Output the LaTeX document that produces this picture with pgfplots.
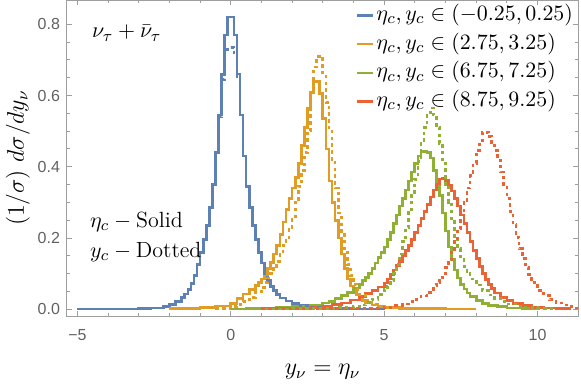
\documentclass[border=0pt]{standalone}
\usepackage{fontspec}
\newfontfamily\tickfont{Liberation Sans}
\usepackage{pgfplots}
\pgfplotsset{compat=1.18}
\usetikzlibrary{calc}

\definecolor{mblue}{rgb}{0.368417,0.506779,0.709798}
\definecolor{morange}{rgb}{0.880722,0.611041,0.142051}
\definecolor{mgreen}{rgb}{0.560181,0.691569,0.194885}
\definecolor{mred}{rgb}{0.922526,0.385626,0.209179}
\definecolor{framegray}{gray}{0.62}
\definecolor{ticklab}{gray}{0.38}

\begin{document}
\begin{tikzpicture}
\begin{axis}[
  scale only axis,
  width=255.5pt, height=158pt,
  xmin=-5.34, xmax=11.32,
  ymin=-0.0188, ymax=0.868,
  xtick={-5,0,5,10}, xticklabels={−5,0,5,10},
  ytick={0,0.2,0.4,0.6,0.8}, yticklabels={0.0,0.2,0.4,0.6,0.8},
  minor x tick num=4, minor y tick num=3,
  tick align=inside,
  major tick length=2.6pt, minor tick length=1.6pt,
  axis line style={framegray, line width=0.5pt},
  tick style={framegray, line width=0.5pt},
  ticklabel style={font=\tickfont\fontsize{8}{9}\selectfont, text=ticklab},
  xticklabel style={yshift=-3pt},
  xlabel={$y_\nu = \eta_\nu$},
  ylabel={$(1/\sigma)\ d\sigma/dy_\nu$},
  every axis x label/.style={at={(axis description cs:0.5,0)}, anchor=center, yshift=-28pt, font=\fontsize{11.5}{14}\selectfont},
  every axis y label/.style={at={(axis description cs:-0.0959,0.5)}, rotate=90, anchor=center, font=\fontsize{11.5}{14}\selectfont},
  const plot,
  every axis plot/.append style={line width=1.35pt},
  legend style={draw=none, fill=none, at={(axis description cs:0.5656,1)}, yshift=-1.8pt, anchor=north west,
    inner sep=0pt, outer sep=0pt, font=\fontsize{11}{13}\selectfont,
    nodes={inner sep=1pt, text depth=0.25em, text height=0.75em},
    row sep=2.3pt, column sep=0pt},
  legend cell align=left,
  legend image code/.code={\draw[#1, line width=1.2pt] (0pt,0pt) -- (8pt,0pt);},
]
\coordinate (fsw) at (rel axis cs:0,0);
\coordinate (fne) at (rel axis cs:1,1);

% eta_c solid histograms
\addplot[mblue] coordinates {
(-5,0.0005) (-4,0.001) (-3,0.002) (-2.6,0.004) (-2.2,0.008) (-2.0,0.013) (-1.8,0.022)
(-1.6,0.033) (-1.5,0.043) (-1.4,0.056) (-1.3,0.072) (-1.2,0.095) (-1.1,0.125) (-1.0,0.16)
(-0.9,0.195) (-0.8,0.235) (-0.7,0.285) (-0.6,0.35) (-0.5,0.44) (-0.4,0.545) (-0.3,0.66)
(-0.2,0.77) (-0.1,0.82) (0,0.82) (0.1,0.77) (0.2,0.66) (0.3,0.545) (0.4,0.43) (0.5,0.345)
(0.6,0.285) (0.7,0.235) (0.8,0.195) (0.9,0.16) (1.0,0.13) (1.1,0.10) (1.2,0.08) (1.3,0.064)
(1.4,0.052) (1.5,0.042) (1.6,0.032) (1.8,0.023) (2.0,0.016) (2.2,0.01) (2.5,0.006) (3,0.003)
(4,0.001) (5,0.001)
};
\addlegendentry{$\eta_c, y_c \in (-0.25, 0.25)$}

\addplot[morange] coordinates {
(-2.0,0.002) (-1.5,0.003) (-1.0,0.005) (-0.5,0.009) (0,0.017) (0.2,0.03) (0.4,0.043)
(0.6,0.055) (0.8,0.066) (0.9,0.075) (1.0,0.085) (1.1,0.098) (1.2,0.115) (1.3,0.132)
(1.4,0.155) (1.5,0.18) (1.6,0.21) (1.7,0.245) (1.8,0.28) (1.9,0.31) (2.0,0.34) (2.1,0.37)
(2.2,0.41) (2.3,0.46) (2.4,0.51) (2.5,0.565) (2.6,0.61) (2.7,0.64) (2.8,0.64) (2.9,0.605)
(3.0,0.535) (3.1,0.45) (3.2,0.36) (3.3,0.30) (3.4,0.25) (3.5,0.20) (3.6,0.155) (3.7,0.115)
(3.8,0.085) (3.9,0.065) (4.0,0.05) (4.1,0.04) (4.2,0.031) (4.3,0.025) (4.4,0.018) (4.6,0.012)
(4.8,0.008) (5.0,0.005) (5.5,0.003) (6,0.002) (7,0.001) (8,0.001)
};
\addlegendentry{$\eta_c, y_c \in (2.75, 3.25)$}

\addplot[mgreen] coordinates {
(0,0.001) (0.5,0.002) (1.0,0.003) (1.5,0.005) (2.0,0.008) (2.5,0.012) (3.0,0.018) (3.2,0.022)
(3.4,0.03) (3.6,0.038) (3.8,0.048) (4.0,0.06) (4.2,0.07) (4.3,0.08) (4.4,0.09) (4.5,0.10)
(4.6,0.115) (4.7,0.13) (4.8,0.145) (4.9,0.16) (5.0,0.175) (5.1,0.195) (5.2,0.215) (5.3,0.24)
(5.4,0.265) (5.5,0.29) (5.6,0.31) (5.7,0.335) (5.8,0.36) (5.9,0.385) (6.0,0.41) (6.1,0.43)
(6.2,0.442) (6.3,0.442) (6.4,0.44) (6.5,0.425) (6.6,0.39) (6.7,0.355) (6.8,0.32) (6.9,0.27)
(7.0,0.22) (7.1,0.175) (7.2,0.14) (7.3,0.11) (7.4,0.088) (7.5,0.07) (7.6,0.057) (7.7,0.046)
(7.8,0.035) (8.0,0.024) (8.2,0.017) (8.4,0.011) (8.7,0.007) (9.0,0.004) (9.5,0.002) (10,0.002)
};
\addlegendentry{$\eta_c, y_c \in (6.75, 7.25)$}

\addplot[mred] coordinates {
(1.0,0.002) (1.5,0.003) (2.0,0.004) (2.5,0.006) (3.0,0.009) (3.3,0.013) (3.6,0.018) (3.9,0.026)
(4.2,0.035) (4.4,0.044) (4.6,0.053) (4.8,0.063) (5.0,0.074) (5.1,0.085) (5.2,0.097) (5.3,0.11)
(5.4,0.122) (5.5,0.135) (5.6,0.15) (5.7,0.165) (5.8,0.18) (5.9,0.195) (6.0,0.215) (6.1,0.235)
(6.2,0.255) (6.3,0.275) (6.4,0.295) (6.5,0.315) (6.6,0.335) (6.7,0.352) (6.8,0.366) (6.9,0.368)
(7.0,0.362) (7.1,0.348) (7.2,0.332) (7.3,0.31) (7.4,0.29) (7.5,0.265) (7.6,0.24) (7.7,0.215)
(7.8,0.19) (7.9,0.165) (8.0,0.142) (8.1,0.12) (8.2,0.10) (8.3,0.083) (8.4,0.07) (8.5,0.058)
(8.6,0.046) (8.8,0.034) (9.0,0.024) (9.2,0.016) (9.5,0.01) (9.8,0.006) (10.2,0.004) (10.6,0.002)
(11.1,0.002)
};
\addlegendentry{$\eta_c, y_c \in (8.75, 9.25)$}

% y_c dotted histograms
\addplot[mblue, dash pattern=on 1.7pt off 1.7pt, forget plot] coordinates {
(-5,0.0005) (-4,0.001) (-3,0.002) (-2.6,0.004) (-2.2,0.008) (-2.0,0.013) (-1.8,0.022)
(-1.6,0.033) (-1.5,0.043) (-1.4,0.056) (-1.3,0.072) (-1.2,0.095) (-1.1,0.125) (-1.0,0.16)
(-0.9,0.195) (-0.8,0.235) (-0.7,0.285) (-0.6,0.35) (-0.5,0.44) (-0.4,0.54) (-0.3,0.645)
(-0.2,0.72) (-0.1,0.735) (0,0.735) (0.1,0.72) (0.2,0.645) (0.3,0.54) (0.4,0.43) (0.5,0.345)
(0.6,0.285) (0.7,0.235) (0.8,0.195) (0.9,0.16) (1.0,0.13) (1.1,0.10) (1.2,0.08) (1.3,0.064)
(1.4,0.052) (1.5,0.042) (1.6,0.032) (1.8,0.023) (2.0,0.016) (2.2,0.01) (2.5,0.006) (3,0.003)
(4,0.001) (5,0.001)
};
\addplot[morange, dash pattern=on 1.7pt off 1.7pt, forget plot] coordinates {
(-0.5,0.003) (0,0.007) (0.2,0.014) (0.4,0.022) (0.6,0.033) (0.8,0.05) (1.0,0.062) (1.1,0.075)
(1.2,0.088) (1.3,0.10) (1.4,0.115) (1.5,0.135) (1.6,0.155) (1.7,0.18) (1.8,0.20) (1.9,0.225)
(2.0,0.26) (2.1,0.30) (2.2,0.345) (2.3,0.39) (2.4,0.44) (2.5,0.50) (2.6,0.60) (2.7,0.68)
(2.8,0.71) (2.9,0.71) (3.0,0.655) (3.1,0.58) (3.2,0.50) (3.3,0.42) (3.4,0.34) (3.5,0.27)
(3.6,0.21) (3.7,0.16) (3.8,0.125) (3.9,0.095) (4.0,0.07) (4.1,0.055) (4.2,0.04) (4.4,0.025)
(4.6,0.015) (4.8,0.009) (5.0,0.004) (5.5,0.002) (6.0,0.002)
};
\addplot[mgreen, dash pattern=on 1.7pt off 1.7pt, forget plot] coordinates {
(0,0.001) (2,0.002) (3,0.003) (3.5,0.005) (4.0,0.008) (4.2,0.012) (4.4,0.019) (4.6,0.028)
(4.8,0.042) (5.0,0.055) (5.1,0.065) (5.2,0.08) (5.3,0.10) (5.4,0.125) (5.5,0.155) (5.6,0.19)
(5.7,0.23) (5.8,0.275) (5.9,0.32) (6.0,0.365) (6.1,0.415) (6.2,0.465) (6.3,0.51) (6.4,0.545)
(6.5,0.565) (6.6,0.545) (6.7,0.51) (6.8,0.465) (6.9,0.41) (7.0,0.35) (7.1,0.30) (7.2,0.25)
(7.3,0.205) (7.4,0.17) (7.5,0.14) (7.6,0.12) (7.7,0.10) (7.8,0.085) (8.0,0.068) (8.2,0.052)
(8.4,0.04) (8.6,0.03) (8.8,0.022) (9.0,0.015) (9.3,0.009) (9.6,0.005) (10,0.002) (10.5,0.002)
};
\addplot[mred, dash pattern=on 1.7pt off 1.7pt, forget plot] coordinates {
(1.0,0.001) (2.0,0.002) (3.0,0.002) (4.0,0.003) (4.5,0.004) (5.0,0.006) (5.3,0.01) (5.6,0.015)
(5.8,0.021) (6.0,0.028) (6.2,0.037) (6.4,0.048) (6.5,0.056) (6.6,0.066) (6.7,0.076) (6.8,0.088)
(6.9,0.10) (7.0,0.118) (7.1,0.138) (7.2,0.16) (7.3,0.19) (7.4,0.225) (7.5,0.265) (7.6,0.30)
(7.7,0.34) (7.8,0.375) (7.9,0.41) (8.0,0.445) (8.1,0.472) (8.2,0.497) (8.3,0.497) (8.4,0.485)
(8.5,0.468) (8.6,0.445) (8.7,0.418) (8.8,0.385) (8.9,0.35) (9.0,0.31) (9.1,0.275) (9.2,0.238)
(9.3,0.202) (9.4,0.17) (9.5,0.142) (9.6,0.118) (9.7,0.098) (9.8,0.08) (9.9,0.066) (10.0,0.052)
(10.2,0.038) (10.4,0.027) (10.6,0.018) (10.8,0.012) (11.0,0.007) (11.2,0.004) (11.5,0.004)
};

\node[anchor=west, font=\fontsize{11}{13}\selectfont] at (axis description cs:0.0352,0.8956) {$\nu_\tau + \bar{\nu}_\tau$};
\node[anchor=west, font=\fontsize{11}{13}\selectfont] at (axis description cs:0.0313,0.2975) {$\eta_c - \mathrm{Solid}$};
\node[anchor=west, font=\fontsize{11}{13}\selectfont] at (axis description cs:0.0313,0.2025) {$y_c - \mathrm{Dotted}$};
\end{axis}
\pgfresetboundingbox
\path ($(fsw)+(-33.5pt,-34pt)$) rectangle ($(fne)+(1.5pt,0pt)$);
\end{tikzpicture}
\end{document}
